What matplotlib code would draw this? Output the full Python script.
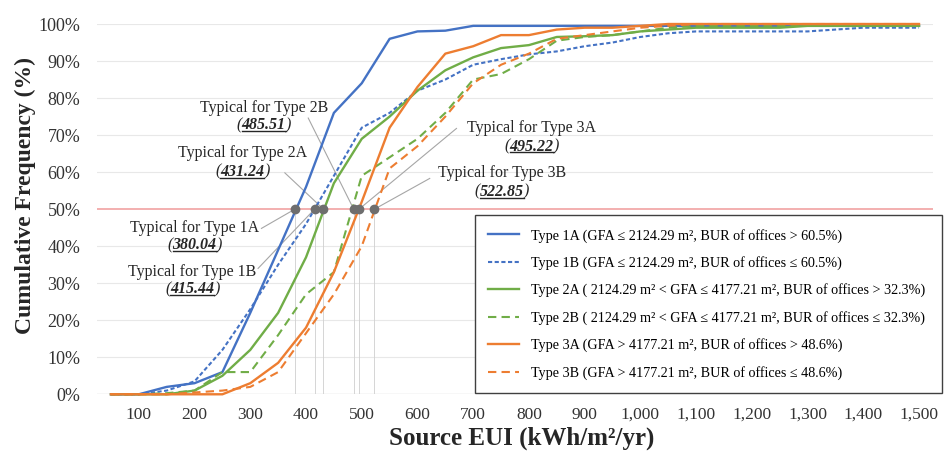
import matplotlib.pyplot as plt
from matplotlib.lines import Line2D

plt.rcParams['font.family'] = ['Liberation Serif', 'DejaVu Serif']

# Source EUI categories (kWh/m2/yr)
eui = list(range(50, 1550, 50))

# cumulative frequency (%) per building type
type_1a = [0, 0, 2, 3, 6, 22, 39, 56, 76, 84, 96, 98, 98.2, 99.5, 99.5, 99.5,
           99.5, 99.5, 99.5, 99.5, 99.5, 99.5, 99.5, 99.5, 99.5, 99.5, 99.5, 99.5, 99.5, 99.5]
type_1b = [0, 0, 1, 3.5, 12, 23, 35, 46, 59, 72, 76, 82, 85, 89, 90.5, 91.8,
           92.6, 94, 95, 96.5, 97.5, 98, 98, 98, 98, 98, 98.5, 99, 99, 99]
type_2a = [0, 0, 0, 1, 5, 12, 22, 37, 57, 69, 75, 82, 87.5, 91, 93.5, 94.3,
           96.5, 96.7, 97, 98, 98.5, 99, 99, 99, 99, 99.5, 99.5, 99.5, 99.5, 99.5]
type_2b = [0, 0, 0.3, 1, 6, 6, 16, 27, 33, 59, 64, 69, 76, 85, 86.5, 90.5,
           95.5, 96.5, 97, 98, 99, 99.5, 99.5, 99.5, 99.5, 99.5, 99.5, 99.5, 99.5, 99.5]
type_3a = [0, 0, 0, 0, 0, 3, 8.5, 18, 33, 52, 72, 83, 92, 94, 97, 97,
           98.5, 99, 99, 99.5, 100, 100, 100, 100, 100, 100, 100, 100, 100, 100]
type_3b = [0, 0, 0, 0.5, 1, 2, 6, 16.5, 27, 40, 61, 67, 75, 84, 89, 92,
           96, 97, 98, 99, 99.5, 100, 100, 100, 100, 100, 100, 100, 100, 100]

legend_labels = [
    'Type 1A (GFA \u2264 2124.29 m\u00b2, BUR of offices > 60.5%)',
    'Type 1B (GFA \u2264 2124.29 m\u00b2, BUR of offices \u2264 60.5%)',
    'Type 2A ( 2124.29 m\u00b2 < GFA \u2264 4177.21 m\u00b2, BUR of offices > 32.3%)',
    'Type 2B ( 2124.29 m\u00b2 < GFA \u2264 4177.21 m\u00b2, BUR of offices \u2264 32.3%)',
    'Type 3A (GFA > 4177.21 m\u00b2, BUR of offices > 48.6%)',
    'Type 3B (GFA > 4177.21 m\u00b2, BUR of offices \u2264 48.6%)',
]

# typical (median) EUI per type
typical_names = ['1A', '1B', '2A', '2B', '3A', '3B']
typical_values = [380.04, 415.44, 431.24, 485.51, 495.22, 522.85]

# annotation layout: (text x, title y, number y, leader start x, leader start y)
ann_layout = {
    '1A': (200, 44.8, 40.3, 320, 44.8),
    '1B': (196, 33.1, 28.4, 314, 34.0),
    '2A': (286, 65.1, 60.1, 362, 59.8),
    '2B': (324, 77.4, 72.7, 404, 74.6),
    '3A': (805, 71.8, 66.9, 670, 71.8),
    '3B': (752, 59.7, 54.7, 622, 58.3),
}

blue, orange, green = '#4472C4', '#ED7D31', '#70AD47'
ink = '#262626'

fig = plt.figure(figsize=(9.44, 4.53), dpi=100)
ax = fig.add_axes([0.1028, 0.1296, 0.8855, 0.8174])

for v in range(10, 101, 10):
    if v != 50:
        ax.axhline(v, color='#E8E8E8', lw=0.8, zorder=0)
ax.axhline(0, color='#D9D9D9', lw=1.0, zorder=0)
ax.axhline(50, color='#F2A9A9', lw=1.3, zorder=1)

ax.plot(eui, type_1a, color=blue, lw=1.7, label=legend_labels[0], clip_on=False, zorder=3)
ax.plot(eui, type_1b, color=blue, lw=1.5, dashes=(2, 1.2), label=legend_labels[1], clip_on=False, zorder=3)
ax.plot(eui, type_2a, color=green, lw=1.7, label=legend_labels[2], clip_on=False, zorder=3)
ax.plot(eui, type_2b, color=green, lw=1.5, dashes=(4, 2.5), label=legend_labels[3], clip_on=False, zorder=3)
ax.plot(eui, type_3a, color=orange, lw=1.7, label=legend_labels[4], clip_on=False, zorder=3)
ax.plot(eui, type_3b, color=orange, lw=1.5, dashes=(4, 2.5), label=legend_labels[5], clip_on=False, zorder=3)

num_texts = []
for name, val in zip(typical_names, typical_values):
    tx, ty, ny, lx, ly = ann_layout[name]
    ax.plot([val, val], [0, 50], color='#CFCFCF', lw=0.6, zorder=2)
    ax.plot([lx, val], [ly, 50], color='#A6A6A6', lw=0.8, zorder=2)
    ax.plot(val, 50, 'o', color='#6E6E6E', ms=6, zorder=6)
    ax.text(tx, ty, 'Typical for Type ' + name, ha='center', va='center',
            fontsize=11.5, color=ink)
    t = ax.text(tx, ny, '%.2f' % val, ha='center', va='center', fontsize=11.5,
                fontweight='bold', style='italic', color=ink)
    num_texts.append(t)

ax.set_xlim(25, 1525)
ax.set_ylim(0, 100)
ax.set_xticks(range(100, 1501, 100))
ax.set_xticklabels(['{:,}'.format(v) for v in range(100, 1501, 100)], fontsize=12.5)
ax.set_yticks(range(0, 101, 10))
ax.set_yticklabels(['%d%%' % v for v in range(0, 101, 10)], fontsize=13)
ax.get_yticklabels()[5].set_color('#C0504D')
ax.tick_params(axis='both', length=0, colors='#333333')
ax.tick_params(axis='y', pad=12)
ax.tick_params(axis='x', pad=9)
for s in ax.spines.values():
    s.set_visible(False)

fig.text(25 / 944, 1 - 195 / 453, 'Cumulative Frequency (%)', rotation=90,
         ha='center', va='center', fontsize=17, fontweight='bold', color=ink)
fig.text(522 / 944, 1 - 438 / 453, 'Source EUI (kWh/m\u00b2/yr)',
         ha='center', va='center', fontsize=18, fontweight='bold', color=ink)

leg = ax.legend(loc='upper left', bbox_to_anchor=(0.503, 0.1435, 0.495, 0.3815),
                bbox_transform=fig.transFigure, mode='expand', borderaxespad=0,
                fancybox=False, edgecolor='#404040', framealpha=1, fontsize=10.2,
                labelspacing=0.95, handlelength=2.2, handletextpad=0.8, borderpad=0.95)
leg.get_frame().set_linewidth(1.0)

# underline the typical values and add parentheses
fig.canvas.draw()
r = fig.canvas.get_renderer()
for t in num_texts:
    bb = t.get_window_extent(r).transformed(fig.transFigure.inverted())
    h = bb.y1 - bb.y0
    uy = bb.y0 + 0.14 * h
    fig.add_artist(Line2D([bb.x0, bb.x1], [uy, uy], transform=fig.transFigure,
                          color=ink, lw=1.0))
    cy = (bb.y0 + bb.y1) / 2
    fig.text(bb.x0, cy, '(', ha='right', va='center', fontsize=11.5, style='italic', color=ink)
    fig.text(bb.x1, cy, ')', ha='left', va='center', fontsize=11.5, style='italic', color=ink)

fig.savefig('out.png', dpi=100)
